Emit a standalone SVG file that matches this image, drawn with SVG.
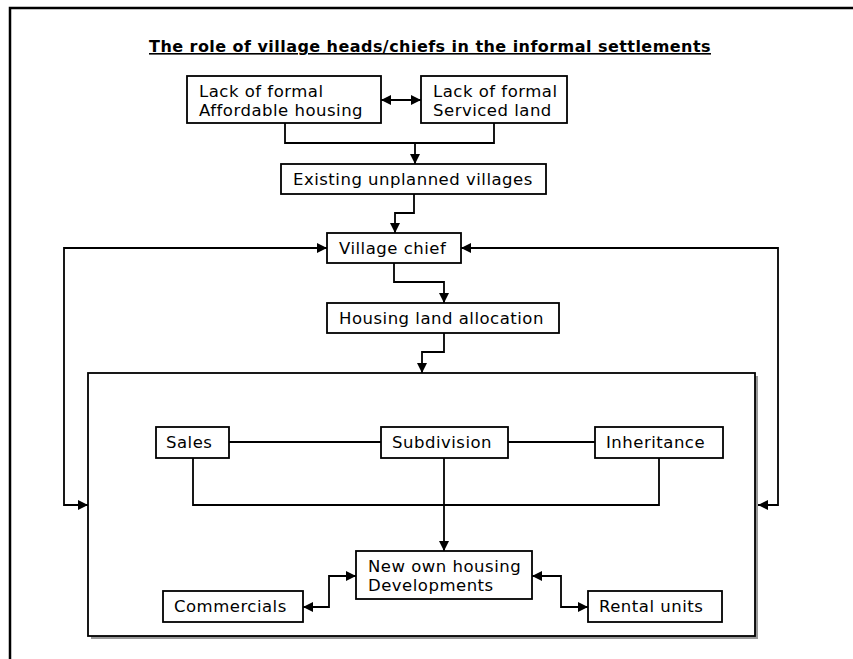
<svg xmlns="http://www.w3.org/2000/svg" width="853" height="659" viewBox="0 0 853 659">
  <style>
    .box { fill: #fff; stroke: #000; stroke-width: 1.8; }
    .lbl { font-family: "DejaVu Sans", Verdana, sans-serif; font-size: 16.5px; letter-spacing: 0.5px; fill: #000; }
    .title { font-family: "DejaVu Sans", Verdana, sans-serif; font-size: 16px; letter-spacing: 0.45px; font-weight: bold; fill: #000; text-decoration: underline; }
    .wire { fill: none; stroke: #000; stroke-width: 1.8; }
    .frame { fill: none; stroke: #000; stroke-width: 2.5; }
  </style>
  <defs>
    <marker id="arr" viewBox="0 0 10 10" refX="10" refY="5" markerWidth="10" markerHeight="10" markerUnits="userSpaceOnUse" orient="auto-start-reverse">
      <path d="M0,0 L10,5 L0,10 Z" fill="#000"/>
    </marker>
  </defs>

  <rect width="853" height="659" fill="#fff"/>
  <!-- page frame -->
  <path class="frame" d="M10,659 V8 H853"/>

  <text class="title" x="430" y="52" text-anchor="middle">The role of village heads/chiefs in the informal settlements</text>

  <!-- large settlement panel with drop shadow -->
  <g id="panel">
    <rect x="91" y="376" width="667" height="263" fill="#999"/>
    <rect class="box" x="88" y="373" width="667" height="263"/>
  </g>

  <g id="connectors">
    <path class="wire" d="M381,100 H421" marker-start="url(#arr)" marker-end="url(#arr)"/>
    <path class="wire" d="M285,123 V143 H494 V123"/>
    <path class="wire" d="M415,143 V164" marker-end="url(#arr)"/>
    <path class="wire" d="M414,194 V213 H395 V233" marker-end="url(#arr)"/>
    <path class="wire" d="M327,248 H64 V505 H88" marker-start="url(#arr)" marker-end="url(#arr)"/>
    <path class="wire" d="M461,248 H778 V505 H758" marker-start="url(#arr)" marker-end="url(#arr)"/>
    <path class="wire" d="M394,263 V282 H444 V303" marker-end="url(#arr)"/>
    <path class="wire" d="M444,333 V352 H422 V373" marker-end="url(#arr)"/>
    <path class="wire" d="M229,442 H381 M508,442 H595"/>
    <path class="wire" d="M193,458 V505 H659 V458"/>
    <path class="wire" d="M444,458 V551" marker-end="url(#arr)"/>
    <path class="wire" d="M356,576 H329 V607 H303" marker-start="url(#arr)" marker-end="url(#arr)"/>
    <path class="wire" d="M532,576 H561 V607 H588" marker-start="url(#arr)" marker-end="url(#arr)"/>
  </g>

  <g id="lack-housing">
    <rect class="box" x="187" y="76" width="194" height="47"/>
    <text class="lbl" x="199" y="97">Lack of formal</text>
    <text class="lbl" x="199" y="116">Affordable housing</text>
  </g>
  <g id="lack-land">
    <rect class="box" x="421" y="76" width="146" height="47"/>
    <text class="lbl" x="433" y="97">Lack of formal</text>
    <text class="lbl" x="433" y="116">Serviced land</text>
  </g>
  <g id="villages">
    <rect class="box" x="281" y="164" width="265" height="30"/>
    <text class="lbl" x="293" y="185">Existing unplanned villages</text>
  </g>
  <g id="chief">
    <rect class="box" x="327" y="233" width="134" height="30"/>
    <text class="lbl" x="339" y="254">Village chief</text>
  </g>
  <g id="allocation">
    <rect class="box" x="327" y="303" width="232" height="30"/>
    <text class="lbl" x="339" y="324">Housing land allocation</text>
  </g>
  <g id="sales">
    <rect class="box" x="156" y="427" width="73" height="31"/>
    <text class="lbl" x="166" y="448">Sales</text>
  </g>
  <g id="subdivision">
    <rect class="box" x="381" y="427" width="127" height="31"/>
    <text class="lbl" x="392" y="448">Subdivision</text>
  </g>
  <g id="inheritance">
    <rect class="box" x="595" y="427" width="128" height="31"/>
    <text class="lbl" x="606" y="448">Inheritance</text>
  </g>
  <g id="new-housing">
    <rect class="box" x="356" y="551" width="176" height="48"/>
    <text class="lbl" x="368" y="572">New own housing</text>
    <text class="lbl" x="368" y="591">Developments</text>
  </g>
  <g id="commercials">
    <rect class="box" x="163" y="591" width="140" height="31"/>
    <text class="lbl" x="174" y="612">Commercials</text>
  </g>
  <g id="rental">
    <rect class="box" x="588" y="591" width="134" height="31"/>
    <text class="lbl" x="599" y="612">Rental units</text>
  </g>
</svg>
